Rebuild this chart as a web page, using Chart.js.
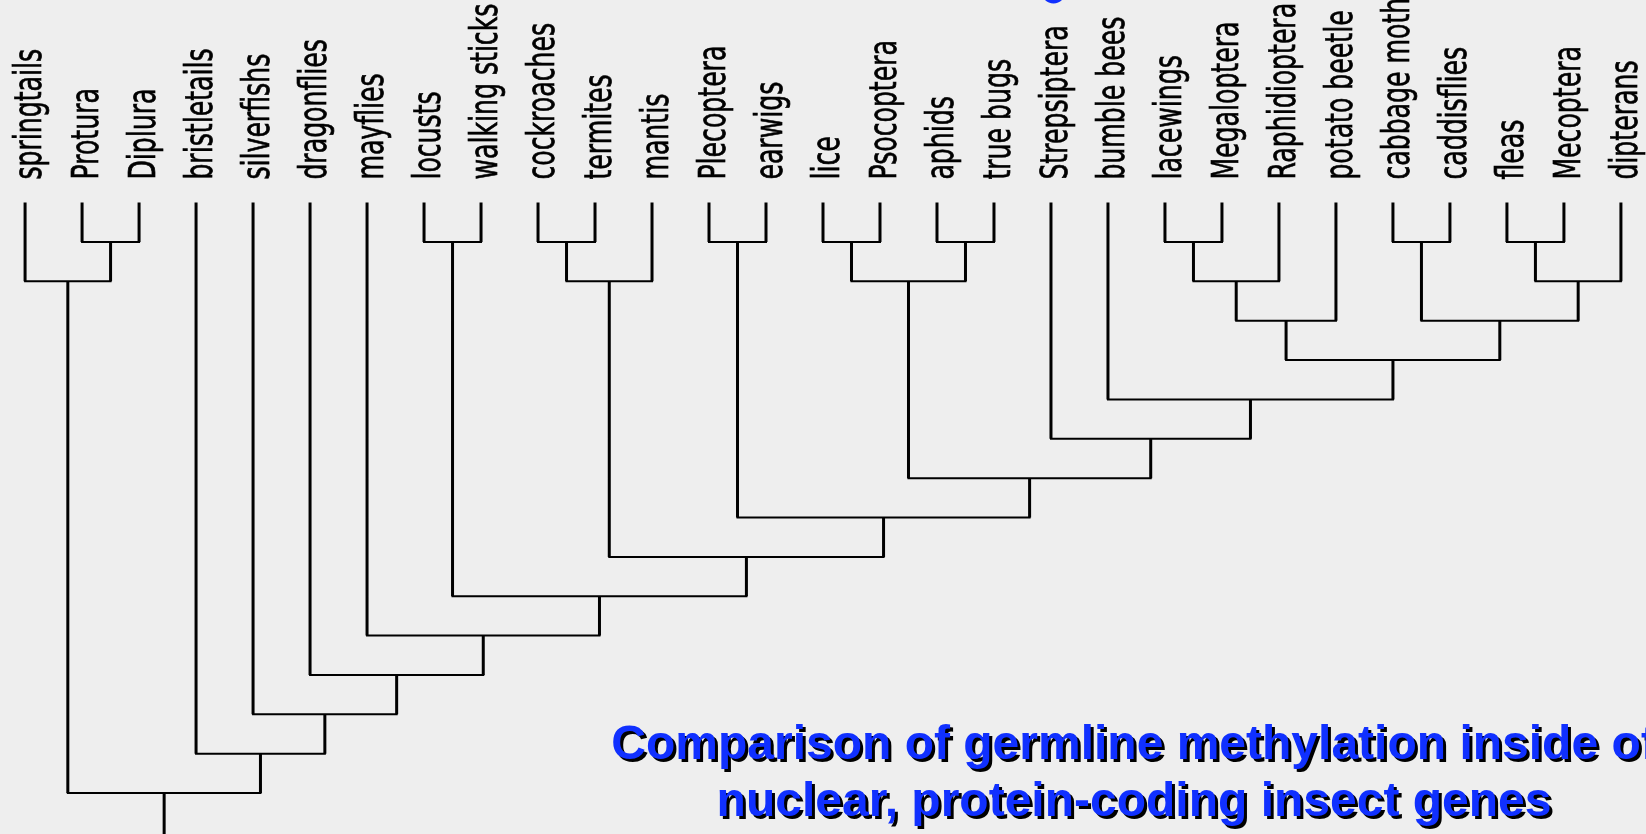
<!DOCTYPE html>
<html>
<head>
<meta charset="utf-8">
<script src="https://cdn.jsdelivr.net/npm/chart.js@4/dist/chart.umd.min.js"></script>
<style>
  html, body { margin: 0; padding: 0; background: #eeeeee; overflow: hidden; }
  #wrap { width: 1646px; height: 834px; position: relative; }
</style>
</head>
<body>
<div id="wrap"><canvas id="c" width="1646" height="834"></canvas></div>
<script>
// ---- data ----
const leaves = ["springtails","Protura","Diplura","bristletails","silverfishs","dragonflies","mayflies",
  "locusts","walking sticks","cockroaches","termites","mantis","Plecoptera","earwigs","lice","Psocoptera",
  "aphids","true bugs","Strepsiptera","bumble bees","lacewings","Megaloptera","Raphidioptera",
  "potato beetle","cabbage moth","caddisflies","fleas","Mecoptera","dipterans"];
// merges: node ids 0..28 are leaves, 29+k is merge k
const mergeLeft  = [1,0,7,9,32,12,14,16,35,20,38,39,24,26,42,41,40,19,18,37,34,33,31,6,5,4,3,30];
const mergeRight = [2,29,8,10,11,13,15,17,36,21,22,23,25,27,28,43,44,45,46,47,48,49,50,51,52,53,54,55];
const mergeLevel = [1,2,1,1,2,1,1,1,2,1,2,3,1,1,2,3,4,5,6,7,8,9,10,11,12,13,14,15];
const rootStubEnd = 16.6;
const titleLines = ["Comparison of germline methylation inside of", "nuclear, protein-coding insect genes"];

// ---- build segments from the tree ----
const nodeX = [], nodeL = [];
leaves.forEach((n, i) => { nodeX[i] = i; nodeL[i] = 0; });
const hPts = [], vPts = [];
mergeLeft.forEach((a, k) => {
  const b = mergeRight[k], id = leaves.length + k, L = mergeLevel[k];
  nodeX[id] = (nodeX[a] + nodeX[b]) / 2; nodeL[id] = L;
  hPts.push({x: nodeX[a], y: L}, {x: nodeX[b], y: L}, {x: nodeX[b], y: null});
  [a, b].forEach(c => vPts.push({x: nodeX[c], y: nodeL[c]}, {x: nodeX[c], y: L}, {x: nodeX[c], y: null}));
});
const rootId = leaves.length + mergeLeft.length - 1;
vPts.push({x: nodeX[rootId], y: nodeL[rootId]}, {x: nodeX[rootId], y: rootStubEnd});

const BLUE = '#1030ff';

const labelPlugin = {
  id: 'leafLabels',
  afterDatasetsDraw(chart) {
    const ctx = chart.ctx, xs = chart.scales.x, ys = chart.scales.y;
    const font = '37px "DejaVu Sans", "Liberation Sans", sans-serif';
    ctx.save();
    ctx.font = font;
    const s = 176 / ctx.measureText('walking sticks').width;
    const yBase = ys.getPixelForValue(0) - 23;
    ctx.fillStyle = '#000';
    ctx.strokeStyle = '#000';
    ctx.lineWidth = 0.7;
    ctx.textAlign = 'left';
    ctx.textBaseline = 'alphabetic';
    leaves.forEach((name, i) => {
      const px = xs.getPixelForValue(i);
      ctx.save();
      ctx.translate(px, yBase);
      ctx.rotate(-Math.PI / 2);
      ctx.scale(s, 1);
      ctx.fillText(name, 0, 16);
      ctx.strokeText(name, 0, 16);
      ctx.restore();
    });
    ctx.restore();
  }
};

const titlePlugin = {
  id: 'slideTitle',
  afterDraw(chart) {
    const ctx = chart.ctx;
    ctx.save();
    // decorative bullet at top
    ctx.fillStyle = BLUE;
    ctx.beginPath();
    ctx.arc(1053.5, -8.5, 12, 0, Math.PI * 2);
    ctx.fill();
    ctx.font = 'bold 48px "Liberation Sans", Arial, sans-serif';
    ctx.textAlign = 'center';
    ctx.textBaseline = 'alphabetic';
    const cx = 1134;
    const base = [759, 816];
    titleLines.forEach((t, i) => {
      ctx.fillStyle = '#000';
      ctx.fillText(t, cx + 3, base[i] + 3);
      ctx.fillStyle = BLUE;
      ctx.fillText(t, cx, base[i]);
    });
    ctx.restore();
  }
};

new Chart(document.getElementById('c'), {
  type: 'scatter',
  data: {
    datasets: [
      { data: hPts, showLine: true, spanGaps: false, borderColor: '#000', borderWidth: 2,
        borderCapStyle: 'square', pointRadius: 0, pointHoverRadius: 0, tension: 0 },
      { data: vPts, showLine: true, spanGaps: false, borderColor: '#000', borderWidth: 3,
        borderCapStyle: 'butt', pointRadius: 0, pointHoverRadius: 0, tension: 0 }
    ]
  },
  options: {
    responsive: false,
    animation: false,
    events: [],
    layout: { padding: 0 },
    plugins: { legend: { display: false }, tooltip: { enabled: false }, title: { display: false } },
    scales: {
      x: { type: 'linear', min: -0.44, max: 28.44, display: false },
      y: { type: 'linear', reverse: true, min: -5.147, max: 16.04, display: false }
    }
  },
  plugins: [labelPlugin, titlePlugin]
});
</script>
</body>
</html>
